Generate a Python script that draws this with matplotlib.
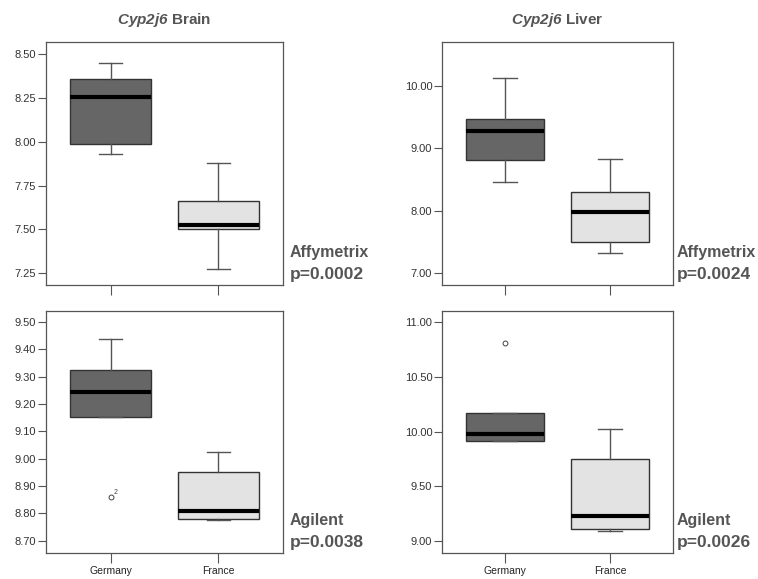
import matplotlib
matplotlib.use("Agg")
import matplotlib.pyplot as plt

plt.rcParams['font.family'] = ['Liberation Sans', 'DejaVu Sans']
plt.rcParams['mathtext.fontset'] = 'custom'
plt.rcParams['mathtext.it'] = 'Liberation Sans:italic:bold'
plt.rcParams['mathtext.rm'] = 'Liberation Sans:italic:bold'

# Data: box stats per panel, Germany then France
groups = ["Germany", "France"]
titles = ["Brain", "Liver"]
platforms = ["Affymetrix", "Affymetrix", "Agilent", "Agilent"]
pvalues = ["p=0.0002", "p=0.0024", "p=0.0038", "p=0.0026"]

whislo = [[7.93, 7.277], [8.463, 7.32], [9.152, 8.777], [9.911, 9.089]]
q1 = [[7.989, 7.50], [8.806, 7.505], [9.152, 8.78], [9.911, 9.104]]
med = [[8.254, 7.523], [9.27, 7.984], [9.243, 8.81], [9.979, 9.226]]
q3 = [[8.356, 7.659], [9.466, 8.30], [9.325, 8.95], [10.174, 9.746]]
whishi = [[8.447, 7.879], [10.12, 8.824], [9.438, 9.024], [10.174, 10.025]]
fliers = [[[], []], [[], []], [[8.861], []], [[10.808], []]]
flier_labels = ["", "", "2", ""]

yticks = [
    [7.25, 7.50, 7.75, 8.00, 8.25, 8.50],
    [7.00, 8.00, 9.00, 10.00],
    [8.70, 8.80, 8.90, 9.00, 9.10, 9.20, 9.30, 9.40, 9.50],
    [9.00, 9.50, 10.00, 10.50, 11.00],
]
ylims = [(7.183, 8.568), (6.81, 10.70), (8.654, 9.542), (8.885, 11.106)]

box_colors = ["#666666", "#e3e3e3"]

fig = plt.figure(figsize=(7.58, 5.79), dpi=100)

lefts = [46 / 758, 442 / 758]
widths = [237 / 758, 231 / 758]
bottoms = [1 - 285 / 579, 1 - 553.3 / 579]
heights = [243 / 579, 242.6 / 579]
text_x = [290 / 758, 677 / 758]
text_y = [(252, 274), (521, 543)]

for i in range(4):
    row, col = divmod(i, 2)
    ax = fig.add_axes([lefts[col], bottoms[row], widths[col], heights[row]])
    stats = []
    for j in range(2):
        stats.append(dict(whislo=whislo[i][j], q1=q1[i][j], med=med[i][j],
                          q3=q3[i][j], whishi=whishi[i][j], fliers=fliers[i][j]))
    bp = ax.bxp(stats, positions=[1, 2], widths=0.75, patch_artist=True,
                showfliers=True,
                medianprops=dict(color='black', linewidth=3),
                whiskerprops=dict(color='#555555', linewidth=1),
                capprops=dict(color='#555555', linewidth=1),
                boxprops=dict(edgecolor='#333333', linewidth=1),
                flierprops=dict(marker='o', markersize=3.5, markerfacecolor='white',
                                markeredgecolor='#444444', markeredgewidth=0.7))
    for cap in bp['caps']:
        x0, x1 = cap.get_xdata()
        c = (x0 + x1) / 2
        cap.set_xdata([c - 0.11, c + 0.11])
    for patch, col_ in zip(bp['boxes'], box_colors):
        patch.set_facecolor(col_)
    if flier_labels[i]:
        ax.annotate(flier_labels[i], (1, fliers[i][0][0]), xytext=(2, 2),
                    textcoords='offset points', fontsize=5, color='#444444')

    ax.set_xlim(0.4, 2.6)
    ax.set_ylim(*ylims[i])
    ax.set_yticks(yticks[i])
    ax.set_yticklabels(["%.2f" % v for v in yticks[i]])
    ax.set_xticks([1, 2])
    if row == 1:
        ax.set_xticklabels(groups)
    else:
        ax.set_xticklabels(["", ""])
    ax.tick_params(axis='y', length=6, width=0.8, color='#555555', pad=1,
                   labelsize=8, labelcolor='#333333')
    ax.tick_params(axis='x', length=7.5, width=0.8, color='#555555', pad=2,
                   labelsize=7.5, labelcolor='#222222')
    for sp in ax.spines.values():
        sp.set_color('#555555')
        sp.set_linewidth(0.9)

    if row == 0:
        ax.set_title(r"$Cyp2j6$ " + titles[col], fontsize=11, fontweight='bold',
                     color='#555555', pad=13)

    fig.text(text_x[col], 1 - text_y[row][0] / 579, platforms[i], fontsize=11.5,
             fontweight='bold', color='#555555', va='center', ha='left')
    fig.text(text_x[col], 1 - text_y[row][1] / 579, pvalues[i], fontsize=12.5,
             fontweight='bold', color='#555555', va='center', ha='left')

fig.savefig("out.png", dpi=100)
